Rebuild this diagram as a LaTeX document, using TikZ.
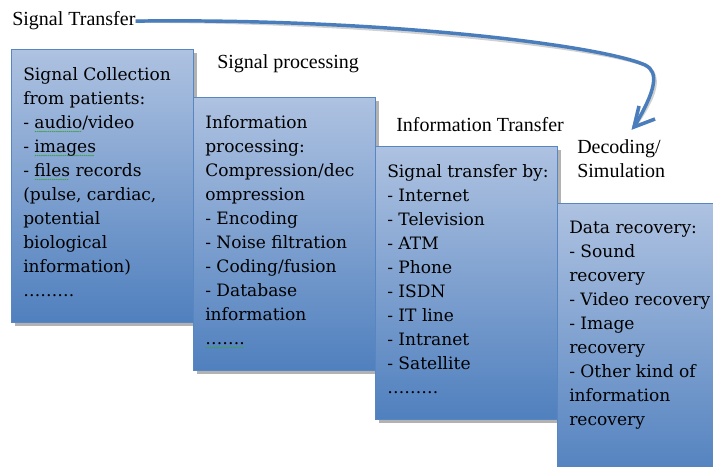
\documentclass[tikz,border=0pt]{standalone}
\usepackage{fontspec}
\setmainfont{Liberation Serif}
\newfontfamily\boxfont{DejaVu Serif}
\usetikzlibrary{shadows}
\definecolor{boxtop}{RGB}{174,194,225}
\definecolor{boxbot}{RGB}{80,128,190}
\definecolor{boxedge}{RGB}{88,134,194}
\definecolor{arrowblue}{RGB}{74,125,187}
\definecolor{spellgreen}{RGB}{60,165,60}
\newsavebox\spellbox
\newcommand\spell[1]{\sbox\spellbox{#1}\rlap{\lower3pt\hbox to \wd\spellbox{\leaders\hbox{\tikz\draw[spellgreen,line width=0.4pt] (0,0) -- (0.6pt,0.6pt) -- (1.2pt,0);}\hfill}}\usebox\spellbox}
\begin{document}
\begin{tikzpicture}[x=0.75pt,y=-0.75pt,
  box/.style={draw=boxedge, line width=0.6pt, top color=boxtop, bottom color=boxbot,
    minimum width=136.5pt, minimum height=204.4pt, anchor=north west, inner sep=0pt,
    drop shadow={shadow xshift=2.5pt, shadow yshift=-3pt, opacity=0.3, fill=black}},
  boxtext/.style={anchor=north west, inner sep=0pt, align=left,
    font=\boxfont\fontsize{12.8}{18}\selectfont},
  title/.style={anchor=base west, inner sep=0pt, align=left,
    font=\fontsize{15}{18}\selectfont},
  curveline/.style={line width=2.6pt, line join=miter}]
\useasboundingbox (0,0) rectangle (713,467);
\fill[white] (0,0) rectangle (713,467);
% boxes
\node[box] (b1) at (11,49) {};
\node[boxtext] (t1) at (23,67) {Signal Collection\\from patients:\\- \spell{audio}/video\\- \spell{images}\\- \spell{files} records\\(pulse, cardiac,\\potential\\biological\\information)\\………};
\node[box] (b2) at (193,97) {};
\node[boxtext] (t2) at (205,115) {Information\\processing:\\Compression/dec\\ompression\\- Encoding\\- Noise filtration\\- Coding/fusion\\- Database\\information\\\spell{…….}};
\node[box] (b3) at (375,146) {};
\node[boxtext] (t3) at (387,164) {Signal transfer by:\\- Internet\\- Television\\- ATM\\- Phone\\- ISDN\\- IT line\\- Intranet\\- Satellite\\………};
\node[box, minimum width=118.5pt, minimum height=210pt] (b4) at (557,203) {};
\node[boxtext] (t4) at (569,221) {Data recovery:\\- Sound\\recovery\\- Video recovery\\- Image\\recovery\\- Other kind of\\information\\recovery};
% titles
\node[title] (l1) at (12,26) {Signal Transfer};
\node[title] (l2) at (217,69) {Signal processing};
\node[title] (l3) at (396,131) {Information Transfer};
\node[title] (l4) at (577,177) {Decoding/\\Simulation};
% arrow
\coordinate (tip) at (634,127);
\coordinate (bend) at (645,65);
\begin{scope}[shift={(2,3)}, black, opacity=0.18]
\draw[curveline] (l1.east) .. controls (380,18) and (600,45) .. (bend)
  .. controls (660,72) and (655,92) .. (tip);
\draw[curveline] ([shift={(5,-21)}]tip) -- (tip) -- ([shift={(21,-8)}]tip);
\end{scope}
\draw[curveline, arrowblue] (l1.east) .. controls (380,18) and (600,45) .. (bend)
  .. controls (660,72) and (655,92) .. (tip);
\draw[curveline, arrowblue] ([shift={(5,-21)}]tip) -- (tip) -- ([shift={(21,-8)}]tip);
\end{tikzpicture}
\end{document}
